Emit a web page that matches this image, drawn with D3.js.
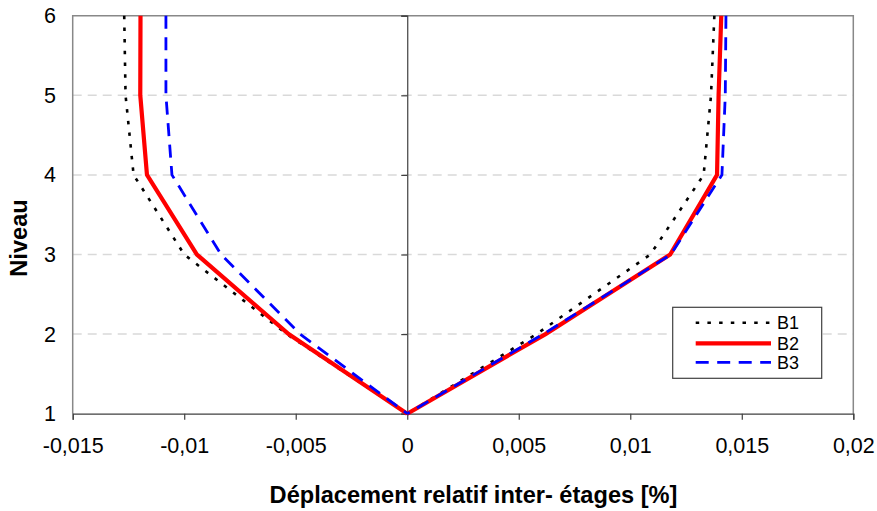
<!DOCTYPE html>
<html><head><meta charset="utf-8">
<script src="https://cdn.jsdelivr.net/npm/d3@7"></script>
<style>body{margin:0;background:#fff;}svg{display:block;font-family:"Liberation Sans",Arial,sans-serif;}</style>
</head><body>
<script>
const levels = [1, 2, 3, 4, 5, 6];
const B1_left  = [0, -0.0054, -0.0100, -0.01227, -0.01263, -0.01269];
const B2_left  = [0, -0.00532, -0.00943, -0.01167, -0.01197, -0.01196];
const B3_left  = [0, -0.0048, -0.00835, -0.01055, -0.01082, -0.01082];
const B1_right = [0, 0.0058, 0.0109, 0.01329, 0.01362, 0.01377];
const B2_right = [0, 0.0062, 0.01179, 0.01389, 0.01396, 0.01408];
const B3_right = [0, 0.0061, 0.01182, 0.01411, 0.01426, 0.01429];
const xTicks = [-0.015, -0.01, -0.005, 0, 0.005, 0.01, 0.015, 0.02];
const yTicks = [1, 2, 3, 4, 5, 6];
const seriesNames = ["B1", "B2", "B3"];
const xTitle = "Déplacement relatif inter- étages [%]";
const yTitle = "Niveau";

const W = 877, H = 511;
const L = 72.7, R = 853.3, T = 15.7, B = 413.7;
const svg = d3.select("body").append("svg").attr("width", W).attr("height", H);
const x = d3.scaleLinear().domain([-0.015, 0.02]).range([L, R]);
const y = d3.scaleLinear().domain([1, 6]).range([B, T]);
const fmt = v => v === 0 ? "0" : String(v).replace(".", ",");

// gridlines
svg.append("g").selectAll("line").data(yTicks.filter(d => d > 1 && d < 6)).join("line")
  .attr("x1", L).attr("x2", R).attr("y1", d => y(d)).attr("y2", d => y(d))
  .attr("stroke", "#d9d9d9").attr("stroke-width", 1.5).attr("stroke-dasharray", "9,6");

// plot border (left, top, right)
svg.append("path").attr("d", `M${L},${B}V${T}H${R}V${B}`)
  .attr("fill", "none").attr("stroke", "#888").attr("stroke-width", 1.5);

// x axis at y=1
const xAxis = d3.axisBottom(x).tickValues(xTicks).tickSize(6).tickFormat(fmt);
const gx = svg.append("g").attr("transform", `translate(0,${B})`).call(xAxis);
gx.select(".domain").attr("stroke", "#404040").attr("stroke-width", 1.2);
gx.selectAll(".tick line").attr("stroke", "#404040").attr("stroke-width", 1.2);
gx.selectAll(".tick text").attr("font-size", "21.5px").attr("fill", "#000")
  .attr("font-family", "Liberation Sans, Arial, sans-serif").attr("y", 39).attr("dy", 0);

// y axis at x=0
const yAxis = d3.axisLeft(y).tickValues(yTicks).tickSize(6).tickFormat(() => "");
const gy = svg.append("g").attr("transform", `translate(${x(0)},0)`).call(yAxis);
gy.select(".domain").attr("stroke", "#404040").attr("stroke-width", 1.2);
gy.selectAll(".tick line").attr("stroke", "#404040").attr("stroke-width", 1.2);

// y tick labels on the left
svg.append("g").selectAll("text").data(yTicks).join("text")
  .attr("x", 56).attr("y", d => y(d) + 7.4).attr("text-anchor", "end")
  .attr("font-size", "21.5px").attr("fill", "#000").text(d => d);

// series
const styles = {
  B1: {color: "#000", width: 2.6, dash: "3.5,8.2"},
  B2: {color: "#ff0000", width: 4.2, dash: null},
  B3: {color: "#0000ff", width: 2.8, dash: "13,8.5"}
};
const seriesData = {
  B1: [B1_left, B1_right], B2: [B2_left, B2_right], B3: [B3_left, B3_right]
};
const line = d3.line().x(d => x(d[0])).y(d => y(d[1]));
seriesNames.forEach(name => {
  const st = styles[name];
  seriesData[name].forEach(vals => {
    const pts = levels.map((lv, i) => [vals[i], lv]).reverse();
    svg.append("path").datum(pts).attr("d", line)
      .attr("fill", "none").attr("stroke", st.color).attr("stroke-width", st.width)
      .attr("stroke-linejoin", "miter")
      .attr("stroke-dasharray", st.dash);
  });
});

// legend
const lg = svg.append("g");
lg.append("rect").attr("x", 672.7).attr("y", 307.3).attr("width", 149).attr("height", 71)
  .attr("fill", "#fff").attr("stroke", "#404040").attr("stroke-width", 1.2);
const ly = [322.7, 343.3, 362.3];
seriesNames.forEach((name, i) => {
  const st = styles[name];
  lg.append("line").attr("x1", 695.7).attr("x2", 771).attr("y1", ly[i]).attr("y2", ly[i])
    .attr("stroke", st.color).attr("stroke-width", st.width).attr("stroke-dasharray", st.dash);
  lg.append("text").attr("x", 777).attr("y", ly[i] + 6.5).attr("font-size", "18px")
    .attr("fill", "#000").text(name);
});

// axis titles
svg.append("text").attr("x", 473.5).attr("y", 503).attr("text-anchor", "middle")
  .attr("font-size", "23.6px").attr("font-weight", "bold").attr("fill", "#000").text(xTitle);
svg.append("text").attr("transform", "translate(27,238) rotate(-90)").attr("text-anchor", "middle")
  .attr("font-size", "23.6px").attr("font-weight", "bold").attr("fill", "#000").text(yTitle);
</script>
</body></html>
